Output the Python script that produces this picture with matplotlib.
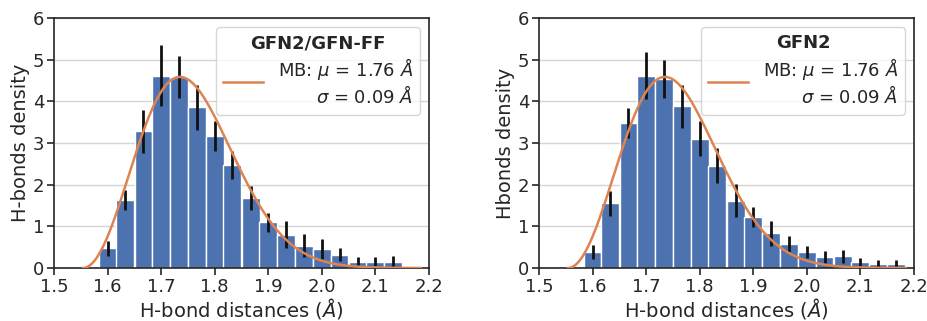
import numpy as np
import matplotlib
matplotlib.use("Agg")
import matplotlib.pyplot as plt

# Histogram bin centres (Å) and densities with their uncertainties
centers_ff = [1.600, 1.633, 1.667, 1.700, 1.733, 1.767, 1.800, 1.833, 1.867,
              1.900, 1.933, 1.967, 2.000, 2.033, 2.067, 2.100, 2.133]
density_ff = [0.47, 1.64, 3.28, 4.62, 4.58, 3.86, 3.18, 2.48, 1.69,
              1.10, 0.80, 0.54, 0.45, 0.32, 0.15, 0.15, 0.15]
err_ff = [0.17, 0.24, 0.52, 0.73, 0.50, 0.54, 0.36, 0.34, 0.29,
          0.23, 0.33, 0.27, 0.24, 0.15, 0.11, 0.11, 0.13]

centers_gfn2 = [1.600, 1.633, 1.667, 1.700, 1.733, 1.767, 1.800, 1.833, 1.867,
                1.900, 1.933, 1.967, 2.000, 2.033, 2.067, 2.100, 2.133, 2.167]
density_gfn2 = [0.39, 1.55, 3.49, 4.62, 4.54, 3.88, 3.10, 2.45, 1.62,
                1.22, 0.83, 0.58, 0.39, 0.26, 0.28, 0.14, 0.10, 0.10]
err_gfn2 = [0.17, 0.31, 0.36, 0.56, 0.46, 0.52, 0.42, 0.42, 0.40,
            0.24, 0.29, 0.19, 0.15, 0.15, 0.15, 0.11, 0.09, 0.09]

# Shifted Maxwell-Boltzmann fit parameters (loc, scale) in Å
mb_loc = 1.554
mb_scale = 0.128

titles = ["GFN2/GFN-FF", "GFN2"]
ylabels = ["H-bonds density", "Hbonds density"]
xlabel = "H-bond distances ($\\AA$)"
xticks = [1.5, 1.6, 1.7, 1.8, 1.9, 2.0, 2.1, 2.2]
yticks = [0, 1, 2, 3, 4, 5, 6]

bin_width = 1 / 30
bar_color = "#4C72B0"
curve_color = "#DD8452"
ink = "#262626"


def maxwell(x, loc, a):
    z = np.clip(x - loc, 0, None)
    return np.sqrt(2 / np.pi) * z ** 2 / a ** 3 * np.exp(-z ** 2 / (2 * a ** 2))


mb_mean = mb_loc + 2 * mb_scale * np.sqrt(2 / np.pi)
mb_std = mb_scale * np.sqrt((3 * np.pi - 8) / np.pi)

plt.rcParams["font.family"] = ["DejaVu Sans"]
plt.rcParams["mathtext.fontset"] = "dejavusans"

fig = plt.figure(figsize=(9.27, 3.21), dpi=100)
axes = [fig.add_axes([54 / 927, 53 / 321, 375 / 927, 250 / 321]),
        fig.add_axes([539 / 927, 53 / 321, 375 / 927, 250 / 321])]

datasets = [(centers_ff, density_ff, err_ff), (centers_gfn2, density_gfn2, err_gfn2)]

xs = np.linspace(mb_loc, 2.185, 400)
for ax, (c, d, e), title, ylab in zip(axes, datasets, titles, ylabels):
    ax.set_axisbelow(True)
    ax.yaxis.grid(True, color="#d5d5d5", linewidth=1.0)
    ax.bar(c, d, width=bin_width, color=bar_color, edgecolor="white",
           linewidth=1.0, zorder=2)
    ax.errorbar(c, d, yerr=e, fmt="none", ecolor="#111111", elinewidth=2.0,
                capsize=0, zorder=3)
    label = f"MB: $\\mu$ = {mb_mean:.2f} $\\AA$\n$\\sigma$ = {mb_std:.2f} $\\AA$"
    ax.plot(xs, maxwell(xs, mb_loc, mb_scale), color=curve_color, lw=1.8,
            zorder=4, label=label)
    ax.set_xlim(1.5, 2.2)
    ax.set_ylim(0, 6)
    ax.set_xticks(xticks)
    ax.set_xticklabels([f"{t:.1f}" for t in xticks])
    ax.set_yticks(yticks)
    ax.tick_params(direction="out", length=5, width=1.2, colors=ink,
                   labelsize=13, pad=2)
    for s in ax.spines.values():
        s.set_color(ink)
        s.set_linewidth(1.2)
    ax.set_xlabel(xlabel, fontsize=14, color=ink, labelpad=0)
    ax.set_ylabel(ylab, fontsize=14, color=ink, labelpad=2)
    leg = ax.legend(loc="upper right", fontsize=13, title=title,
                    title_fontproperties={"weight": "bold", "size": 13},
                    frameon=True, fancybox=True, framealpha=0.8,
                    edgecolor="#cccccc", handlelength=2.2,
                    borderpad=0.4, labelspacing=0.2)
    for t in leg.get_texts():
        t.set_multialignment("right")
        t.set_color(ink)
    leg.get_title().set_color(ink)
    leg.set_zorder(10)

fig.savefig("out.png", dpi=100)
